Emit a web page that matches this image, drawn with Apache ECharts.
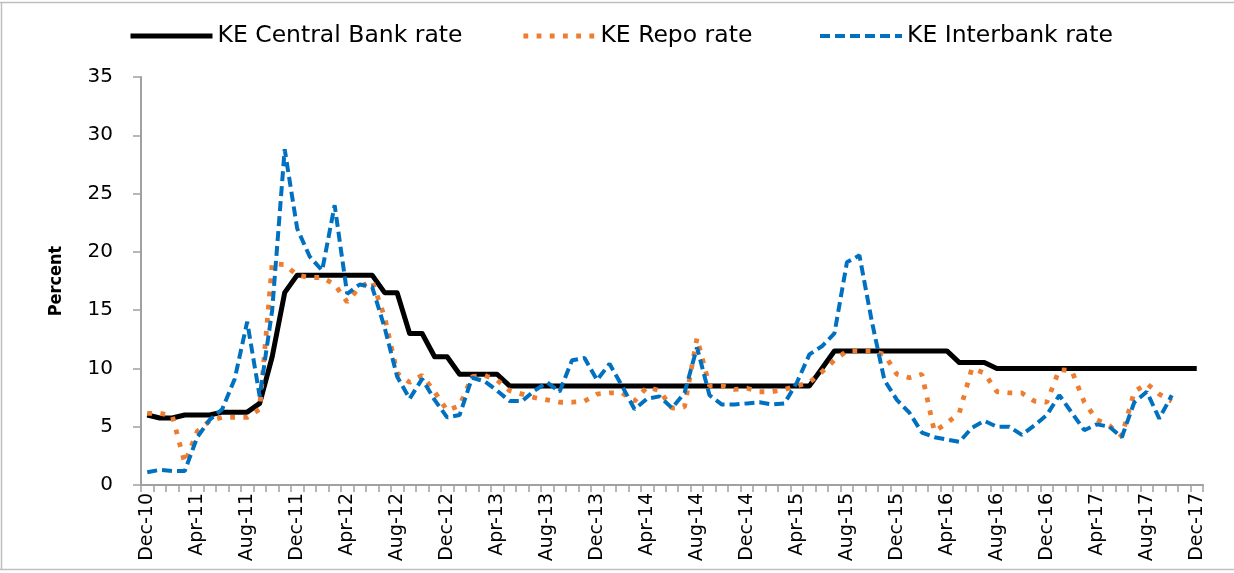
<!DOCTYPE html>
<html>
<head>
<meta charset="utf-8">
<title>KE rates</title>
<script src="https://cdn.jsdelivr.net/npm/echarts@6/dist/echarts.min.js"></script>
<style>
  html, body { margin: 0; padding: 0; background: #fff; }
  #chart { width: 1234px; height: 573px; }
</style>
</head>
<body>
<div id="chart"></div>
<script>
// monthly, Dec-10 .. Dec-17
const months = [
  'Dec-10',
  'Jan-11', 'Feb-11', 'Mar-11', 'Apr-11', 'May-11', 'Jun-11', 'Jul-11', 'Aug-11', 'Sep-11', 'Oct-11', 'Nov-11', 'Dec-11',
  'Jan-12', 'Feb-12', 'Mar-12', 'Apr-12', 'May-12', 'Jun-12', 'Jul-12', 'Aug-12', 'Sep-12', 'Oct-12', 'Nov-12', 'Dec-12',
  'Jan-13', 'Feb-13', 'Mar-13', 'Apr-13', 'May-13', 'Jun-13', 'Jul-13', 'Aug-13', 'Sep-13', 'Oct-13', 'Nov-13', 'Dec-13',
  'Jan-14', 'Feb-14', 'Mar-14', 'Apr-14', 'May-14', 'Jun-14', 'Jul-14', 'Aug-14', 'Sep-14', 'Oct-14', 'Nov-14', 'Dec-14',
  'Jan-15', 'Feb-15', 'Mar-15', 'Apr-15', 'May-15', 'Jun-15', 'Jul-15', 'Aug-15', 'Sep-15', 'Oct-15', 'Nov-15', 'Dec-15',
  'Jan-16', 'Feb-16', 'Mar-16', 'Apr-16', 'May-16', 'Jun-16', 'Jul-16', 'Aug-16', 'Sep-16', 'Oct-16', 'Nov-16', 'Dec-16',
  'Jan-17', 'Feb-17', 'Mar-17', 'Apr-17', 'May-17', 'Jun-17', 'Jul-17', 'Aug-17', 'Sep-17', 'Oct-17', 'Nov-17', 'Dec-17'
];

const centralBankRate = [
  6.0,
  5.75, 5.75, 6.0, 6.0, 6.0, 6.25, 6.25, 6.25, 7.0, 11.0, 16.5, 18.0,
  18.0, 18.0, 18.0, 18.0, 18.0, 18.0, 16.5, 16.5, 13.0, 13.0, 11.0, 11.0,
  9.5, 9.5, 9.5, 9.5, 8.5, 8.5, 8.5, 8.5, 8.5, 8.5, 8.5, 8.5,
  8.5, 8.5, 8.5, 8.5, 8.5, 8.5, 8.5, 8.5, 8.5, 8.5, 8.5, 8.5,
  8.5, 8.5, 8.5, 8.5, 8.5, 10.0, 11.5, 11.5, 11.5, 11.5, 11.5, 11.5,
  11.5, 11.5, 11.5, 11.5, 10.5, 10.5, 10.5, 10.0, 10.0, 10.0, 10.0, 10.0,
  10.0, 10.0, 10.0, 10.0, 10.0, 10.0, 10.0, 10.0, 10.0, 10.0, 10.0, 10.0
];

const repoRate = [
  6.15,
  6.15, 5.95, 1.9, 4.6, 5.5, 5.8, 5.8, 5.8, 6.5, 19.0, 18.9, 18.0,
  17.8, 17.8, 17.2, 15.7, 17.0, 17.5, 14.4, 9.6, 8.8, 9.4, 8.0, 6.4,
  6.8, 9.3, 9.4, 9.0, 8.1, 7.8, 7.5, 7.3, 7.1, 7.1, 7.2, 7.8,
  7.9, 7.9, 7.2, 8.4, 8.1, 6.6, 6.7, 12.6, 8.5, 8.5, 8.2, 8.3,
  8.0, 8.0, 8.2, 8.5, 8.8, 9.7, 10.7, 11.5, 11.5, 11.5, 11.2, 9.5,
  9.2, 9.5, 4.6, 5.3, 6.2, 10.0, 9.6, 8.0, 7.9, 7.9, 7.2, 7.1,
  9.9, 9.8, 7.1, 5.6, 5.1, 4.2, 8.0, 8.7, 7.8, 7.2, null, null
];

const interbankRate = [
  1.1,
  1.3, 1.2, 1.2, 4.1, 5.6, 6.5, 9.1, 14.0, 7.6, 15.0, 28.8, 22.0,
  19.6, 18.4, 24.0, 16.4, 17.2, 17.0, 13.5, 9.3, 7.4, 9.1, 7.3, 5.8,
  6.0, 9.2, 8.9, 8.1, 7.2, 7.2, 8.1, 8.8, 8.0, 10.7, 10.9, 9.0,
  10.4, 8.5, 6.5, 7.4, 7.6, 6.6, 7.9, 11.8, 7.7, 6.9, 6.9, 7.0,
  7.1, 6.9, 7.0, 8.8, 11.2, 11.9, 13.0, 19.1, 19.7, 14.0, 9.0, 7.3,
  6.2, 4.5, 4.1, 3.9, 3.7, 4.9, 5.5, 5.0, 5.0, 4.3, 5.1, 6.0,
  7.7, 6.2, 4.7, 5.2, 5.0, 4.1, 7.1, 8.0, 5.7, 7.7, null, null
];

const chart = echarts.init(document.getElementById('chart'), null, { renderer: 'canvas' });

const axisGrey = '#A0A0A0';
const legendText = { fontFamily: 'DejaVu Sans', fontSize: 23.5, color: '#000' };

const lineStyles = {
  central: { color: '#000', width: 5, join: 'round' },
  repo: { color: '#ED7D31', width: 4.8, type: [4.8, 8.4], cap: 'butt' },
  interbank: { color: '#0070C0', width: 4, type: [10, 5], cap: 'butt' }
};

const makeLegend = (name, left, width, style) => ({
  data: [name],
  left: left,
  top: 24,
  padding: 0,
  itemWidth: width,
  itemHeight: 14,
  selectedMode: false,
  itemStyle: { opacity: 0 },
  lineStyle: style,
  textStyle: legendText
});

chart.setOption({
  animation: false,
  backgroundColor: '#fff',
  legend: [
    makeLegend('KE Central Bank rate', 128, 82, lineStyles.central),
    makeLegend('KE Repo rate', 521, 72, lineStyles.repo),
    makeLegend('KE Interbank rate', 818, 82, lineStyles.interbank)
  ],
  grid: {
    left: 141,
    right: 31,
    top: 77,
    bottom: 88,
    containLabel: false,
    outerBoundsMode: 'none'
  },
  xAxis: {
    type: 'category',
    data: months,
    boundaryGap: true,
    axisLine: { lineStyle: { color: axisGrey, width: 2 } },
    axisTick: { show: true, interval: 0, length: 7, lineStyle: { color: axisGrey, width: 1.5 } },
    axisLabel: {
      interval: 3,
      rotate: 90,
      margin: 8,
      color: '#000',
      fontFamily: 'DejaVu Sans',
      fontSize: 19
    },
    splitLine: { show: false }
  },
  yAxis: {
    type: 'value',
    min: 0,
    max: 35,
    interval: 5,
    name: 'Percent',
    nameLocation: 'middle',
    nameRotate: 90,
    nameGap: 76,
    nameTextStyle: {
      fontFamily: "'DejaVu Sans Condensed', 'DejaVu Sans', sans-serif",
      fontWeight: 'bold',
      fontSize: 18,
      color: '#000'
    },
    axisLine: { show: true, lineStyle: { color: axisGrey, width: 2 } },
    axisTick: { show: true, length: 8, lineStyle: { color: axisGrey, width: 1.5 } },
    axisLabel: {
      margin: 28,
      color: '#000',
      fontFamily: 'DejaVu Sans',
      fontSize: 20
    },
    splitLine: { show: false }
  },
  series: [
    {
      name: 'KE Central Bank rate',
      type: 'line',
      data: centralBankRate,
      symbol: 'none',
      color: '#000',
      lineStyle: lineStyles.central
    },
    {
      name: 'KE Repo rate',
      type: 'line',
      data: repoRate,
      symbol: 'none',
      color: '#ED7D31',
      lineStyle: lineStyles.repo
    },
    {
      name: 'KE Interbank rate',
      type: 'line',
      data: interbankRate,
      symbol: 'none',
      color: '#0070C0',
      lineStyle: lineStyles.interbank
    }
  ],
  graphic: [
    { type: 'line', shape: { x1: 0, y1: 2.5, x2: 1234, y2: 2.5 }, style: { stroke: '#BFBFBF', lineWidth: 1.5 } },
    { type: 'line', shape: { x1: 1.5, y1: 2, x2: 1.5, y2: 570 }, style: { stroke: '#BFBFBF', lineWidth: 1.5 } },
    { type: 'line', shape: { x1: 0, y1: 569.5, x2: 1234, y2: 569.5 }, style: { stroke: '#BFBFBF', lineWidth: 1.5 } }
  ]
});
</script>
</body>
</html>
